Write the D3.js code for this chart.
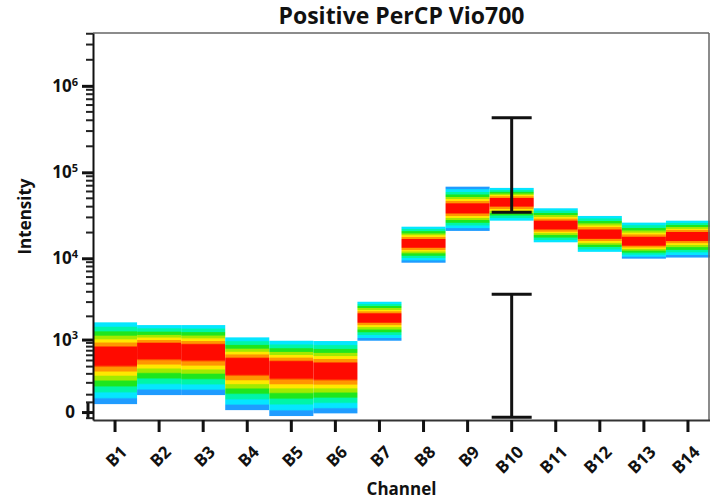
<!DOCTYPE html>
<html>
<head>
<meta charset="utf-8">
<script src="https://cdn.jsdelivr.net/npm/d3@7"></script>
<style>
  body { margin: 0; background: #fff; }
  text { font-family: "Open Sans", "DejaVu Sans", sans-serif; font-weight: 700; fill: #111; }
</style>
</head>
<body>
<div id="vis-container"></div>
<script>
// chart size and margins
const width = 710;
const height = 500;
const margin = { left: 93, right: 1, top: 33, bottom: 80 };

// data
const channels = ["B1", "B2", "B3", "B4", "B5", "B6", "B7", "B8", "B9", "B10", "B11", "B12", "B13", "B14"];
const lowVals = [40, 97, 97, 9, -19, -6, 964, 8870, 20900, 27500, 15400, 11900, 9900, 10200];
const peakVals = [605, 739, 700, 424, 378, 350, 1940, 14980, 38300, 45700, 24500, 19100, 15600, 18200];
const highVals = [1680, 1550, 1550, 1070, 964, 955, 3030, 23400, 68200, 66000, 38300, 31200, 26100, 27500];
// density level at the low and high ends (0 = sparse/blue, 1 = cyan)
const lowDensity = [0, 0, 0, 0, 0, 0, 0, 0, 0, 1, 1, 1, 0, 0];
const highDensity = [1, 1, 1, 1, 1, 1, 1, 1, 0, 1, 1, 1, 1, 1];

// error bars (both drawn on B10)
const errChannels = ["B10", "B10"];
const errLow = [34400, -25];
const errHigh = [429000, 3730];

// y axis ticks
const yMajor = [0, 1e3, 1e4, 1e5, 1e6];
const yExponents = [null, 3, 4, 5, 6];

const densityColors = ["#1f9cff", "#05e6ff", "#00f5a8", "#1ee61e", "#a2ea00", "#ffe800", "#ff9600", "#ff0a00"];
const bandWeights = [1, 1, 1, 1, 0.8, 0.7, 0.8, 2];

const svg = d3.select("#vis-container")
  .append("svg")
  .attr("width", width)
  .attr("height", height);

const defs = svg.append("defs");

const xScale = d3.scaleBand()
  .domain(channels)
  .range([margin.left, width - margin.right + 1])
  .padding(0);

const yScale = d3.scaleSymlog()
  .constant(170)
  .domain([-40, 4.08e6])
  .range([height - margin.bottom, margin.top]);

// minor ticks
const yMinor = d3.range(1, 10).map(m => m * 100);
[1e3, 1e4, 1e5, 1e6].forEach(dec => {
  d3.range(2, 10).forEach(m => {
    if (m * dec <= 4.08e6) yMinor.push(m * dec);
  });
});
yMinor.push(50, -30);

// build gradient stops for one bar, from bottom to top
function bandStops(i) {
  const yLo = yScale(lowVals[i]);
  const yHi = yScale(highVals[i]);
  const yPk = yScale(peakVals[i]);
  const p = (yLo - yPk) / (yLo - yHi);
  const stops = [];
  let pos = 0;
  // bottom half: lowDensity .. red, then top half: red .. highDensity
  [[d3.range(lowDensity[i], 8), p], [d3.range(7, highDensity[i] - 1, -1), 1 - p]].forEach(([levels, frac]) => {
    const total = d3.sum(levels, l => bandWeights[l]);
    levels.forEach(l => {
      const w = bandWeights[l] / total * frac;
      stops.push({ o: pos + w * 0.15, c: densityColors[l] });
      stops.push({ o: pos + w * 0.85, c: densityColors[l] });
      pos += w;
    });
  });
  return { yLo, yHi, stops };
}

channels.forEach((ch, i) => {
  const g = bandStops(i);
  const grad = defs.append("linearGradient")
    .attr("id", "grad" + i)
    .attr("gradientUnits", "userSpaceOnUse")
    .attr("x1", 0).attr("x2", 0)
    .attr("y1", g.yLo).attr("y2", g.yHi);
  grad.selectAll("stop")
    .data(g.stops)
    .join("stop")
    .attr("offset", d => d.o)
    .attr("stop-color", d => d.c);
});

// density bars
svg.selectAll(".bar")
  .data(channels)
  .join("rect")
  .attr("class", "bar")
  .attr("x", d => xScale(d))
  .attr("width", xScale.bandwidth())
  .attr("y", (d, i) => yScale(highVals[i]))
  .attr("height", (d, i) => yScale(lowVals[i]) - yScale(highVals[i]))
  .attr("fill", (d, i) => "url(#grad" + i + ")");

// error bars
const capHalf = 20;
errChannels.forEach((ch, i) => {
  const cx = xScale(ch) + xScale.bandwidth() / 2;
  const eg = svg.append("g")
    .attr("stroke", "#111")
    .attr("stroke-width", 3);
  eg.append("line")
    .attr("x1", cx).attr("x2", cx)
    .attr("y1", yScale(errLow[i])).attr("y2", yScale(errHigh[i]));
  [errLow[i], errHigh[i]].forEach(v => {
    eg.append("line")
      .attr("x1", cx - capHalf).attr("x2", cx + capHalf)
      .attr("y1", yScale(v)).attr("y2", yScale(v));
  });
});

// frame: top and right in grey
svg.append("line")
  .attr("x1", margin.left).attr("x2", width - 1)
  .attr("y1", margin.top).attr("y2", margin.top)
  .attr("stroke", "#666").attr("stroke-width", 1.5);
svg.append("line")
  .attr("x1", width - 1).attr("x2", width - 1)
  .attr("y1", margin.top).attr("y2", height - margin.bottom)
  .attr("stroke", "#666").attr("stroke-width", 1.5);

// x axis
const xAxisG = svg.append("g")
  .attr("transform", `translate(0,${height - margin.bottom})`)
  .call(d3.axisBottom(xScale).tickSize(12).tickSizeOuter(0))
  .call(g => g.select(".domain").attr("stroke", "#333").attr("stroke-width", 2))
  .call(g => g.selectAll(".tick line").attr("stroke", "#111").attr("stroke-width", 3));
xAxisG.selectAll(".tick text")
  .attr("fill", "#111")
  .attr("font-size", 17)
  .attr("text-anchor", "end")
  .attr("x", 0).attr("y", 0).attr("dy", 0)
  .attr("transform", "translate(13,33) rotate(-45)");

// y axis: major ticks
const yAxisG = svg.append("g")
  .attr("transform", `translate(${margin.left},0)`)
  .call(d3.axisLeft(yScale).tickValues(yMajor).tickSize(11).tickSizeOuter(0).tickFormat(""))
  .call(g => g.select(".domain").attr("stroke", "#111").attr("stroke-width", 2))
  .call(g => g.selectAll(".tick line").attr("stroke", "#111").attr("stroke-width", 3));

// bracket near zero
yAxisG.append("line")
  .attr("x1", -5).attr("x2", -5)
  .attr("y1", yScale(50)).attr("y2", yScale(-30))
  .attr("stroke", "#111").attr("stroke-width", 3);

// major labels
yMajor.forEach((v, i) => {
  const t = yAxisG.append("text")
    .attr("x", yExponents[i] === null ? -18 : -15)
    .attr("y", yScale(v))
    .attr("dy", "0.35em")
    .attr("font-size", 17)
    .attr("text-anchor", "end");
  if (yExponents[i] === null) {
    t.text("0");
  } else {
    t.append("tspan").text("10");
    t.append("tspan")
      .attr("dy", "-0.55em")
      .attr("font-size", 11)
      .text(yExponents[i]);
  }
});

// titles
svg.append("text")
  .attr("x", (margin.left + width) / 2)
  .attr("y", 24)
  .attr("text-anchor", "middle")
  .attr("font-size", 23)
  .text("Positive PerCP Vio700");

svg.append("text")
  .attr("x", (margin.left + width) / 2)
  .attr("y", 495)
  .attr("text-anchor", "middle")
  .attr("font-size", 17)
  .text("Channel");

svg.append("text")
  .attr("transform", `translate(31,${(margin.top + height - margin.bottom) / 2 - 10}) rotate(-90)`)
  .attr("text-anchor", "middle")
  .attr("font-size", 17)
  .text("Intensity");

// minor y ticks, drawn last
svg.append("g")
  .selectAll("rect")
  .data(yMinor)
  .join("rect")
  .attr("x", margin.left - 7)
  .attr("y", d => yScale(d) - 1)
  .attr("width", 7)
  .attr("height", 2)
  .attr("fill", "#222");
</script>
</body>
</html>
